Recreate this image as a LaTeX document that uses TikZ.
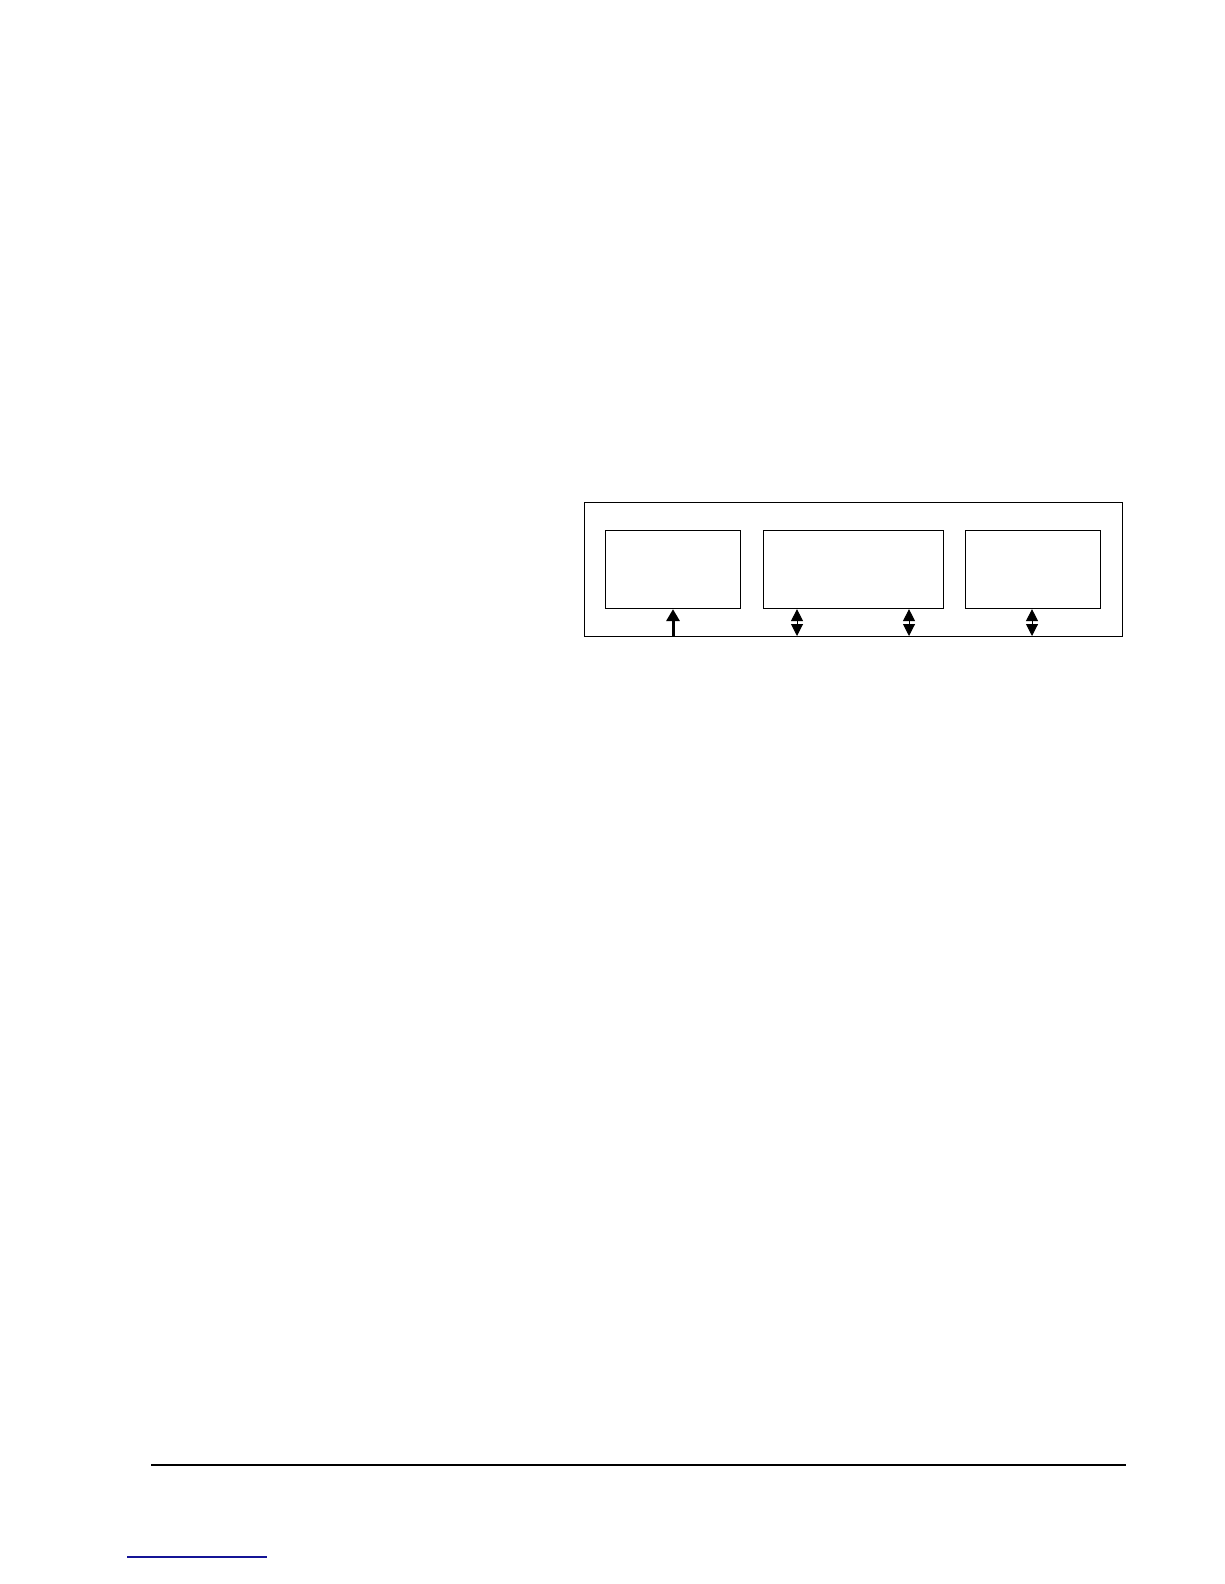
\documentclass[tikz,border=0pt]{standalone}
\usetikzlibrary{arrows.meta}
\begin{document}
\begin{tikzpicture}[x=1pt,y=-1pt,
  box/.style={draw,line width=1.1pt,inner sep=0pt,anchor=north west},
  uparrow/.style={line width=3pt,-{Triangle[length=12pt,width=13pt]}},
  bothways/.style={line width=1pt,{Triangle[length=12pt,width=12pt]}-{Triangle[length=12pt,width=12pt]}}]
\useasboundingbox (0,0) rectangle (1224,1584);
\node[box,line width=1.3pt,minimum width=538pt,minimum height=134pt] (outer) at (584,502) {};
\node[box,minimum width=135pt,minimum height=78pt] (b1) at (605,530) {};
\node[box,minimum width=180pt,minimum height=78pt] (b2) at (763,530) {};
\node[box,minimum width=135pt,minimum height=78pt] (b3) at (965,530) {};
\coordinate (p1) at (673,636);
\coordinate (p2) at (797,636);
\coordinate (p3) at (909,636);
\coordinate (p4) at (1032,636);
\draw[uparrow] (p1) -- (p1 |- b1.south);
\draw[bothways] (p2) -- (p2 |- b2.south);
\draw[bothways] (p3) -- (p3 |- b2.south);
\draw[bothways] (p4) -- (p4 |- b3.south);
\coordinate (r1) at (151,1465);
\coordinate (r2) at (1126,1465);
\draw[line width=1.3pt] (r1) -- (r2);
\coordinate (l1) at (127,1557);
\coordinate (l2) at (267,1557);
\draw[line width=1.2pt,color={rgb,255:red,20;green,20;blue,150}] (l1) -- (l2);
\end{tikzpicture}
\end{document}
